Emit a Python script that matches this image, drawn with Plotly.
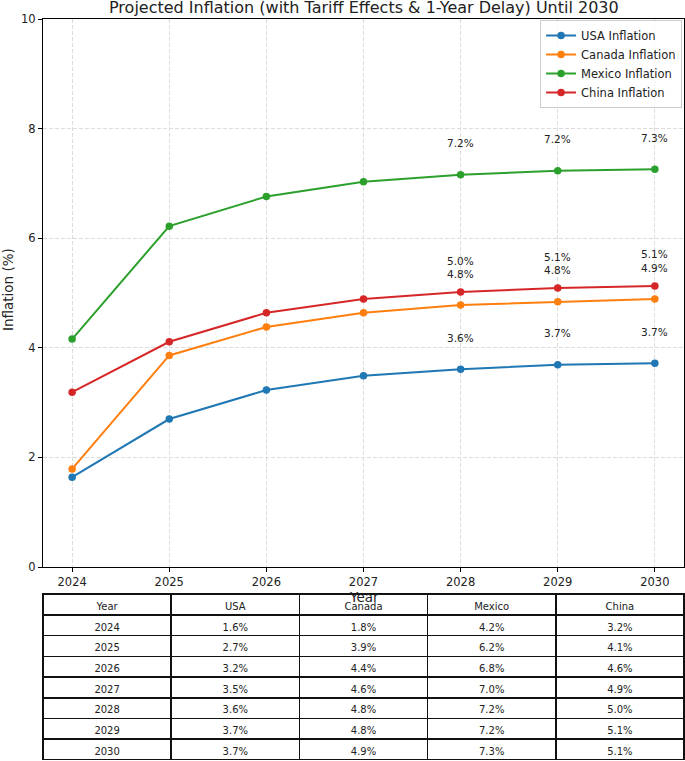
import plotly.graph_objects as go

years = [2024, 2025, 2026, 2027, 2028, 2029, 2030]
usa = [1.64, 2.70, 3.23, 3.49, 3.61, 3.69, 3.72]
canada = [1.79, 3.86, 4.38, 4.64, 4.78, 4.84, 4.89]
mexico = [4.16, 6.22, 6.76, 7.03, 7.16, 7.23, 7.26]
china = [3.19, 4.11, 4.64, 4.89, 5.02, 5.09, 5.13]

series = [
    ("USA Inflation", usa, "#1f77b4"),
    ("Canada Inflation", canada, "#ff7f0e"),
    ("Mexico Inflation", mexico, "#2ca02c"),
    ("China Inflation", china, "#d62728"),
]
label_years = [2028, 2029, 2030]
table_header = ["Year", "USA", "Canada", "Mexico", "China"]

W, H = 685, 761
ML, MR, MT, MB = 43, 1, 19, 1
PH = H - MT - MB
def py(pix):
    return (H - MB - pix) / PH

FONT = "DejaVu Sans"
fig = go.Figure()
for name, vals, col in series:
    fig.add_trace(go.Scatter(
        x=years, y=vals, name=name, mode="lines+markers",
        line=dict(color=col, width=2), marker=dict(color=col, size=7.5),
        xaxis="x", yaxis="y"))

annotations = []
for name, vals, col in series:
    for yr, v in zip(years, vals):
        if yr in label_years:
            annotations.append(dict(
                x=yr, y=v + 0.5, xref="x", yref="y", text=f"{v:.1f}%",
                showarrow=False, yanchor="bottom", yshift=-4,
                font=dict(family=FONT, size=10.5, color="#222")))

fmt = lambda arr: [f"{v:.1f}%" for v in arr]
fig.add_trace(go.Table(
    domain=dict(x=[0, 1], y=[0, py(594)]),
    columnwidth=[1, 1, 1, 1, 1],
    header=dict(values=table_header, fill_color="white",
                line=dict(color="#111", width=1.5), height=21,
                font=dict(family=FONT, size=10, color="#222"), align="center"),
    cells=dict(values=[[str(y) for y in years], fmt(usa), fmt(canada), fmt(mexico), fmt(china)],
               fill_color="white", line=dict(color="#111", width=1.5), height=20.7,
               font=dict(family=FONT, size=10, color="#222"), align="center"),
))

annotations.append(dict(x=0.5, y=1, xref="paper", yref="paper",
    text="Projected Inflation (with Tariff Effects & 1-Year Delay) Until 2030",
    showarrow=False, yanchor="bottom", yshift=0,
    font=dict(family=FONT, size=16, color="#222")))
annotations.append(dict(x=0.5, y=py(597), xref="paper", yref="paper", text="Year",
    showarrow=False, yanchor="middle", font=dict(family=FONT, size=13.5, color="#222")))
annotations.append(dict(x=(8 - ML) / (W - ML - MR), y=py(290), xref="paper", yref="paper",
    text="Inflation (%)", textangle=-90, showarrow=False, xanchor="center", yanchor="middle",
    font=dict(family=FONT, size=13.5, color="#222")))

axis_common = dict(showline=True, linecolor="black", linewidth=1, mirror=True,
                   ticks="outside", ticklen=4, tickcolor="black", automargin=False,
                   showgrid=True, gridcolor="#dcdcdc", griddash="4px,2px", gridwidth=1,
                   zeroline=False, tickfont=dict(family=FONT, size=11.5, color="#222"))

fig.update_layout(
    width=W, height=H, margin=dict(l=ML, r=MR, t=MT, b=MB, autoexpand=False),
    paper_bgcolor="white", plot_bgcolor="white",
    xaxis=dict(range=[2023.7, 2030.3], tickvals=years, anchor="y", **axis_common),
    yaxis=dict(range=[0, 10], tickvals=[0, 2, 4, 6, 8, 10], domain=[py(567), 1],
               anchor="x", **axis_common),
    legend=dict(x=0.997, y=py(20), xanchor="right", yanchor="top", itemwidth=30,
                bordercolor="#cccccc", borderwidth=1, bgcolor="rgba(255,255,255,0.8)",
                font=dict(family=FONT, size=11.5, color="#222"), tracegroupgap=0),
    annotations=annotations, showlegend=True,
)
fig.write_html("out.html")
